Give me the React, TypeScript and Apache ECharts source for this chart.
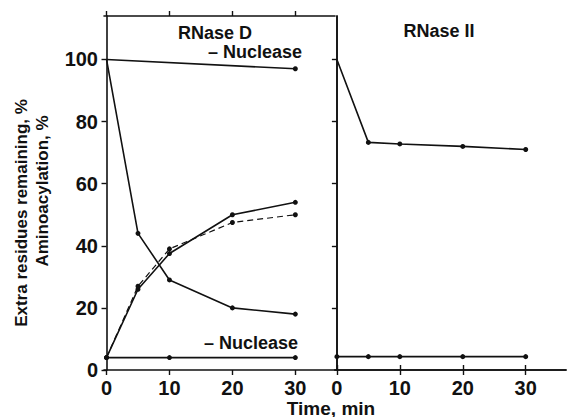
import React, { useEffect, useRef } from "react";
import * as echarts from "echarts";

const times = [0, 5, 10, 20, 30];
const xTicks = [0, 10, 20, 30];
const yTicks = [0, 20, 40, 60, 80, 100];

// RNase D panel
const dNoNucTimes = [0, 30];
const dNoNucExtra = [100, 97];
const dExtra = [100, 44, 29, 20, 18];
const dAminoSolid = [4, 26, 37.5, 50, 54];
const dAminoDashed = [4, 27, 39, 47.5, 50];
const dNoNucAminoTimes = [0, 10, 30];
const dNoNucAmino = [4, 4, 4];

// RNase II panel
const iiExtra = [100, 73.3, 72.8, 72, 71];
const iiAmino = [4.3, 4.3, 4.3, 4.3, 4.3];

const FONT = "Liberation Sans, Arial, sans-serif";
const INK = "#111";

function pts(xs: number[], ys: number[], hideFirst = false) {
  return xs.map((x, i) =>
    hideFirst && i === 0 ? { value: [x, ys[i]], symbol: "none" } : { value: [x, ys[i]] }
  );
}

export default function App() {
  const ref = useRef<HTMLDivElement>(null);
  useEffect(() => {
    if (!ref.current) return;
    const chart = echarts.init(ref.current, null, { renderer: "svg" });
    const lineStyle = { color: INK, width: 1.6 };
    const axisLine = { show: true, lineStyle: { color: INK, width: 1.6 } };
    const tick = {
      show: true,
      inside: false,
      length: 5,
      lineStyle: { color: INK, width: 1.4 },
    };
    const xBottom = (gi: number, min: number, max: number) => ({
      type: "value",
      gridIndex: gi,
      position: "bottom",
      min,
      max,
      axisLine,
      splitLine: { show: false },
      axisTick: { ...tick, customValues: xTicks },
      axisLabel: {
        customValues: xTicks,
        color: INK,
        fontFamily: FONT,
        fontWeight: "bold",
        fontSize: 20,
        margin: 8,
      },
    });
    const xTop = (gi: number, min: number, max: number) => ({
      type: "value",
      gridIndex: gi,
      position: "top",
      min,
      max,
      axisLine,
      splitLine: { show: false },
      axisTick: { ...tick, customValues: xTicks },
      axisLabel: { show: false },
    });
    const series = (data: any[], xi: number, yi: number, dashed = false) => ({
      type: "line",
      xAxisIndex: xi,
      yAxisIndex: yi,
      data,
      symbol: "circle",
      symbolSize: 5,
      itemStyle: { color: INK },
      lineStyle: dashed ? { ...lineStyle, width: 1.2, type: [6, 4] } : lineStyle,
      silent: true,
    });
    const label = (text: string, x: number, y: number, align: string, size = 18, rot = 0) => ({
      type: "text",
      x,
      y,
      rotation: rot,
      style: {
        text,
        fill: INK,
        font: `bold ${size}px ${FONT}`,
        align,
        verticalAlign: "middle",
      },
    });

    chart.setOption({
      animation: false,
      backgroundColor: "#fff",
      grid: [
        { left: 104, top: 16, width: 231, height: 354 },
        { left: 335, top: 16, width: 231, height: 354 },
      ],
      xAxis: [
        xBottom(0, -0.4, 36.3),
        xBottom(1, -0.3, 36.4),
        xTop(0, -0.4, 36.3),
        xTop(1, -0.3, 36.4),
      ],
      yAxis: [
        {
          type: "value",
          gridIndex: 0,
          position: "left",
          min: 0,
          max: 114,
          axisLine,
          splitLine: { show: false },
          axisTick: { ...tick, customValues: yTicks },
          axisLabel: {
            customValues: yTicks,
            color: INK,
            fontFamily: FONT,
            fontWeight: "bold",
            fontSize: 20,
            margin: 6,
          },
        },
        {
          type: "value",
          gridIndex: 1,
          position: "left",
          min: 0,
          max: 114,
          axisLine,
          splitLine: { show: false },
          axisTick: { ...tick, customValues: yTicks.slice(1) },
          axisLabel: { show: false },
        },
        {
          type: "value",
          gridIndex: 1,
          position: "right",
          min: 0,
          max: 114,
          axisLine,
          splitLine: { show: false },
          axisTick: { show: false },
          axisLabel: { show: false },
        },
      ],
      series: [
        series(pts(dNoNucTimes, dNoNucExtra, true), 0, 0),
        series(pts(times, dExtra, true), 0, 0),
        series(pts(times, dAminoSolid), 0, 0),
        series(pts(times, dAminoDashed), 0, 0, true),
        series(pts(dNoNucAminoTimes, dNoNucAmino), 0, 0),
        series(pts(times, iiExtra, true), 1, 1),
        series(pts(times, iiAmino), 1, 1),
      ],
      graphic: [
        label("RNase D", 215, 33, "center"),
        label("– Nuclease", 302, 52, "right"),
        label("– Nuclease", 298, 343, "right"),
        label("RNase II", 439, 31, "center"),
        label("Time, min", 331, 408, "center", 19),
        label("Extra residues remaining, %", 21, 213, "center", 17, Math.PI / 2),
        label("Aminoacylation, %", 42, 191, "center", 17, Math.PI / 2),
      ],
    });
    return () => chart.dispose();
  }, []);
  return (
    <div
      ref={ref}
      style={{ position: "fixed", left: 0, top: 0, width: 568, height: 417 }}
    />
  );
}
